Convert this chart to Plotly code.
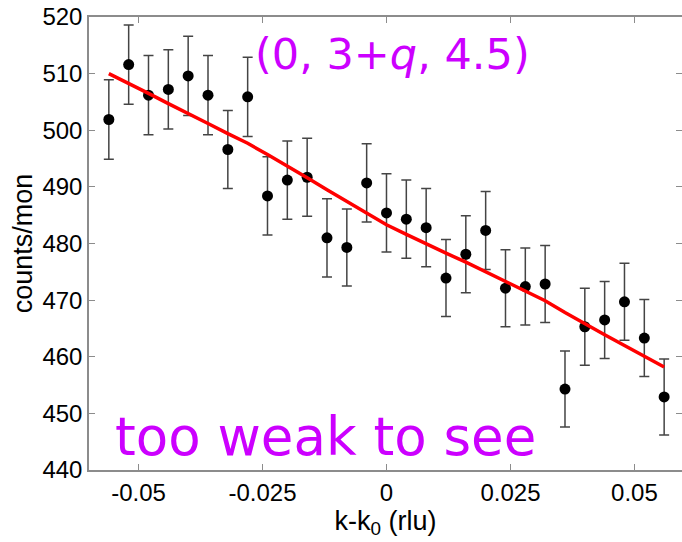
import plotly.graph_objects as go

k_rlu = [-0.056, -0.052, -0.048, -0.044, -0.040, -0.036, -0.032, -0.028, -0.024, -0.020,
         -0.016, -0.012, -0.008, -0.004, 0.000, 0.004, 0.008, 0.012, 0.016, 0.020,
         0.024, 0.028, 0.032, 0.036, 0.040, 0.044, 0.048, 0.052, 0.056]
counts = [501.9, 511.6, 506.2, 507.2, 509.6, 506.2, 496.6, 505.9, 488.4, 491.2,
          491.7, 481.0, 479.3, 490.7, 485.4, 484.3, 482.8, 473.9, 478.1, 482.3,
          472.1, 472.4, 472.85, 454.3, 465.3, 466.5, 469.7, 463.3, 452.9]
errors = [7.0, 7.0, 7.0, 7.0, 7.0, 7.0, 6.9, 7.0, 6.9, 6.9,
          6.9, 6.9, 6.8, 6.9, 6.9, 6.9, 6.9, 6.8, 6.8, 6.9,
          6.8, 6.8, 6.8, 6.7, 6.8, 6.8, 6.8, 6.8, 6.7]
fit = [510.0, 508.3, 506.5, 504.7, 503.0, 501.2, 499.4, 497.7, 495.7, 493.7,
       491.6, 489.5, 487.4, 485.3, 483.3, 481.6, 479.9, 478.3, 476.7, 475.0,
       473.4, 471.6, 469.9, 467.8, 465.8, 463.9, 462.0, 460.1, 458.2]

x_ticks = [-0.05, -0.025, 0, 0.025, 0.05]
x_tick_text = ["-0.05", "-0.025", "0", "0.025", "0.05"]
y_ticks = [440, 450, 460, 470, 480, 490, 500, 510, 520]
y_range = [440, 520]

fig = go.Figure()
fig.add_trace(go.Scatter(
    x=k_rlu, y=counts, mode="markers",
    marker=dict(color="black", size=11),
    error_y=dict(type="data", array=errors, visible=True, color="#444444",
                 thickness=1.5, width=5),
    showlegend=False, cliponaxis=False))
fig.add_trace(go.Scatter(
    x=k_rlu, y=fit, mode="lines",
    line=dict(color="#ff0000", width=3.5),
    showlegend=False))
# invisible companion trace so the right-hand tick axis is drawn
fig.add_trace(go.Scatter(
    x=k_rlu, y=counts, mode="markers", yaxis="y2",
    marker=dict(opacity=0), hoverinfo="skip", showlegend=False))

sans = "Liberation Sans, Arial, sans-serif"
axis_common = dict(showline=True, linecolor="#8c8c8c", linewidth=1.5,
                   ticks="inside", ticklen=6, tickcolor="#8c8c8c", tickwidth=1.2,
                   showgrid=False, zeroline=False,
                   tickfont=dict(family=sans, size=24, color="black"))

fig.update_xaxes(range=[-0.06, 0.0596], tickvals=x_ticks, ticktext=x_tick_text, mirror="ticks",
                 title=dict(text="k-k<sub>0</sub> (rlu)", standoff=2,
                            font=dict(family=sans, size=27, color="black")),
                 **axis_common)
fig.update_yaxes(range=y_range, tickvals=y_ticks, mirror=False,
                 title=dict(text="counts/mon", standoff=2,
                            font=dict(family=sans, size=27, color="black")),
                 **axis_common)

fig.update_layout(
    yaxis2=dict(overlaying="y", side="right", range=y_range, tickvals=y_ticks,
                showticklabels=False, showline=False, showgrid=False, zeroline=False,
                ticks="inside", ticklen=6, tickcolor="#8c8c8c", tickwidth=1.2))

fig.add_annotation(x=0.0013, y=513.5, xref="x", yref="y",
                   text="(0, 3+<i>q</i>, 4.5)", showarrow=False,
                   xanchor="center", yanchor="middle",
                   font=dict(family="Comic Sans MS, DejaVu Sans, sans-serif", size=43, color="#cc00ff"))
fig.add_annotation(x=-0.0551, y=446.0, xref="x", yref="y",
                   text="too weak to see", showarrow=False,
                   xanchor="left", yanchor="middle",
                   font=dict(family="Comic Sans MS, DejaVu Sans, sans-serif", size=53, color="#cc00ff"))

fig.update_layout(width=682, height=542, plot_bgcolor="white", paper_bgcolor="white",
                  margin=dict(l=89, r=0, t=17, b=72))

fig.write_html("out.html")
